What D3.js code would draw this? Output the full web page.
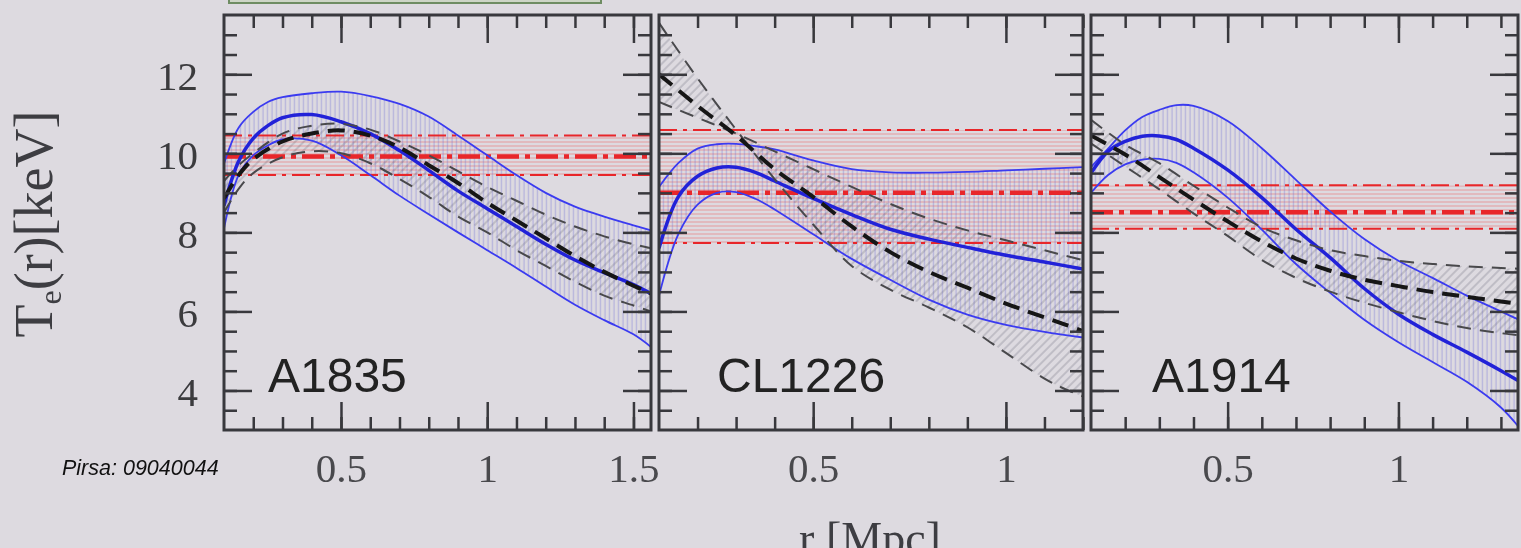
<!DOCTYPE html>
<html>
<head>
<meta charset="utf-8">
<script src="https://cdn.jsdelivr.net/npm/d3@7"></script>
<style>
  html, body { margin: 0; padding: 0; background: #dddae0; overflow: hidden; }
  svg { display: block; }
</style>
</head>
<body>
<svg id="chart" width="1521" height="548"></svg>
<script>
// ---- data ----
const clusters = ["A1835", "CL1226", "A1914"];
const rMax = [1.56, 1.2, 1.35];            // right edge of each panel, Mpc
const xTickLabels = [[0.5, 1, 1.5], [0.5, 1], [0.5, 1]];
const yTickLabels = [4, 6, 8, 10, 12];

// isothermal fit: [lower, best, upper] keV
const isoA1835 = [9.45, 9.92, 10.45];
const isoCL1226 = [7.73, 9.0, 10.59];
const isoA1914 = [8.09, 8.51, 9.19];

// model profile (blue): [r, lower, best, upper]
const modelA1835 = [
  [0.1, 8.1, 8.68, 9.74], [0.15, 9.45, 9.8, 10.65], [0.2, 9.95, 10.38, 11.05],
  [0.25, 10.2, 10.7, 11.3], [0.3, 10.35, 10.9, 11.42], [0.4, 10.32, 10.98, 11.52],
  [0.5, 9.95, 10.8, 11.56], [0.6, 9.45, 10.5, 11.45], [0.7, 8.93, 10.07, 11.25],
  [0.8, 8.46, 9.57, 10.93], [0.9, 8.0, 9.05, 10.45], [1.0, 7.55, 8.6, 9.95],
  [1.1, 7.1, 8.15, 9.45], [1.2, 6.63, 7.7, 9.0], [1.3, 6.17, 7.3, 8.65],
  [1.4, 5.78, 6.98, 8.4], [1.5, 5.42, 6.68, 8.18], [1.56, 5.1, 6.45, 8.05]
];
const modelCL1226 = [
  [0.1, 6.4, 7.6, 9.15], [0.15, 7.95, 8.9, 9.75], [0.2, 8.7, 9.42, 10.12],
  [0.25, 9.0, 9.63, 10.23], [0.3, 9.02, 9.65, 10.24], [0.35, 8.85, 9.52, 10.18],
  [0.4, 8.58, 9.3, 10.1], [0.5, 7.95, 8.86, 9.82], [0.6, 7.33, 8.45, 9.6],
  [0.7, 6.8, 8.08, 9.52], [0.8, 6.3, 7.83, 9.51], [0.9, 5.92, 7.62, 9.53],
  [1.0, 5.66, 7.42, 9.57], [1.1, 5.48, 7.25, 9.61], [1.2, 5.34, 7.07, 9.65]
];
const modelA1914 = [
  [0.1, 9.0, 9.5, 9.65], [0.15, 9.45, 10.05, 10.12], [0.2, 9.72, 10.3, 10.58],
  [0.25, 9.84, 10.43, 10.92], [0.3, 9.86, 10.44, 11.1], [0.35, 9.76, 10.35, 11.22],
  [0.4, 9.52, 10.13, 11.2], [0.5, 8.88, 9.58, 10.82], [0.6, 8.07, 8.88, 10.13],
  [0.7, 7.2, 8.08, 9.33], [0.8, 6.47, 7.36, 8.53], [0.9, 5.79, 6.58, 7.83],
  [1.0, 5.22, 5.93, 7.28], [1.1, 4.72, 5.42, 6.85], [1.2, 4.22, 4.97, 6.4],
  [1.3, 3.57, 4.5, 6.0], [1.35, 3.1, 4.25, 5.8]
];

// deprojected fit (black dashed): [r, bound a, best, bound b]
const fitA1835 = [
  [0.1, 8.5, 8.86, 9.3], [0.15, 9.1, 9.45, 9.7], [0.2, 9.5, 9.85, 10.0],
  [0.3, 9.9, 10.3, 10.5], [0.4, 10.05, 10.5, 10.7], [0.5, 10.0, 10.58, 10.75],
  [0.6, 9.75, 10.45, 10.6], [0.7, 9.35, 10.15, 10.3], [0.8, 8.9, 9.7, 9.95],
  [0.9, 8.4, 9.25, 9.55], [1.0, 8.0, 8.75, 9.15], [1.1, 7.55, 8.3, 8.8],
  [1.2, 7.15, 7.85, 8.45], [1.3, 6.75, 7.4, 8.15], [1.4, 6.4, 7.0, 7.9],
  [1.5, 6.15, 6.65, 7.7], [1.56, 6.0, 6.45, 7.6]
];
const fitCL1226 = [
  [0.1, 13.3, 12.0, 11.3], [0.2, 11.9, 11.2, 10.9], [0.3, 10.6, 10.45, 10.5],
  [0.4, 9.35, 9.6, 10.05], [0.5, 8.2, 8.9, 9.6], [0.6, 7.15, 8.15, 9.15],
  [0.7, 6.55, 7.5, 8.72], [0.8, 6.1, 7.0, 8.35], [0.9, 5.6, 6.6, 8.05],
  [1.0, 4.95, 6.2, 7.8], [1.1, 4.3, 5.85, 7.55], [1.15, 4.05, 5.68, 7.42],
  [1.2, 3.85, 5.5, 7.3]
];
const fitA1914 = [
  [0.1, 10.25, 10.45, 10.85], [0.2, 9.67, 9.97, 10.22], [0.3, 9.09, 9.4, 9.75],
  [0.4, 8.48, 8.83, 9.18], [0.5, 7.91, 8.28, 8.63], [0.6, 7.3, 7.77, 8.13],
  [0.7, 6.85, 7.34, 7.8], [0.8, 6.5, 7.03, 7.55], [0.9, 6.22, 6.8, 7.4],
  [1.0, 5.98, 6.64, 7.28], [1.1, 5.76, 6.49, 7.2], [1.2, 5.58, 6.37, 7.14],
  [1.3, 5.45, 6.25, 7.1], [1.35, 5.4, 6.2, 7.08]
];

const isoFits = [isoA1835, isoCL1226, isoA1914];
const models = [modelA1835, modelCL1226, modelA1914];
const fits = [fitA1835, fitCL1226, fitA1914];

// ---- layout ----
const frames = [[224, 651], [659, 1083], [1091, 1518]];
const plotTop = 15, plotBottom = 430;
const serif = "'Liberation Serif', 'DejaVu Serif', Times, serif";
const sans = "'Liberation Sans', Arial, Helvetica, sans-serif";
const ink = "#38383c";

const svg = d3.select("#chart");
const defs = svg.append("defs");

defs.append("filter").attr("id", "soft")
  .append("feGaussianBlur").attr("stdDeviation", 0.6);

// hatching used for the error bands
function hatch(id, w, h, line, color, rotate) {
  const p = defs.append("pattern")
    .attr("id", id)
    .attr("patternUnits", "userSpaceOnUse")
    .attr("width", w).attr("height", h);
  if (rotate) p.attr("patternTransform", "rotate(" + rotate + ")");
  p.append("line")
    .attr("x1", line[0]).attr("y1", line[1])
    .attr("x2", line[2]).attr("y2", line[3])
    .attr("stroke", color).attr("stroke-width", 1);
}
hatch("hatchRed", 10, 4, [0, 2, 10, 2], "rgba(240,70,70,0.42)");
hatch("hatchBlue", 4.5, 10, [2, 0, 2, 10], "rgba(80,80,210,0.36)");
hatch("hatchGrey", 6, 6, [3, 0, 3, 6], "rgba(70,70,90,0.38)", 45);

const root = svg.append("g").attr("filter", "url(#soft)");

// slide title box peeking in at the top
root.append("rect")
  .attr("x", 229).attr("y", -6).attr("width", 372).attr("height", 9)
  .attr("fill", "#cdd5c6").attr("stroke", "#6e8c62").attr("stroke-width", 2);

const y = d3.scaleLinear().domain([3, 13.5]).range([plotBottom, plotTop]);
const curve = d3.curveCatmullRom.alpha(0.5);

clusters.forEach((name, i) => {
  const [x0, x1] = frames[i];
  const x = d3.scaleLinear().domain([0.1, rMax[i]]).range([x0, x1]);
  const g = root.append("g");

  defs.append("clipPath").attr("id", "clip" + i)
    .append("rect").attr("x", x0).attr("y", plotTop)
    .attr("width", x1 - x0).attr("height", plotBottom - plotTop);

  const plot = g.append("g").attr("clip-path", "url(#clip" + i + ")");

  const lineOf = col => d3.line().x(d => x(d[0])).y(d => y(d[col])).curve(curve);
  const band = (rows, a, b) => {
    const up = lineOf(a)(rows);
    const dn = lineOf(b)(rows.slice().reverse());
    return up + "L" + dn.slice(1) + "Z";
  };

  const iso = isoFits[i];
  const model = models[i];
  const fit = fits[i];

  // error bands
  plot.append("rect")
    .attr("x", x0).attr("width", x1 - x0)
    .attr("y", y(iso[2])).attr("height", y(iso[0]) - y(iso[2]))
    .attr("fill", "url(#hatchRed)");
  plot.append("path").attr("d", band(model, 1, 3)).attr("fill", "url(#hatchBlue)");
  plot.append("path").attr("d", band(fit, 1, 3)).attr("fill", "url(#hatchGrey)");

  // isothermal temperature, dash-dot
  plot.selectAll("line.iso").data(iso).join("line")
    .attr("class", "iso")
    .attr("x1", x0).attr("x2", x1)
    .attr("y1", d => y(d)).attr("y2", d => y(d))
    .attr("stroke", "#e8262a")
    .attr("stroke-width", (d, k) => k === 1 ? 4.5 : 2)
    .attr("stroke-dasharray", (d, k) => k === 1 ? "22,6,5,6" : "18,6,4,6");

  // model profile with its bounds
  [1, 3, 2].forEach(col => {
    plot.append("path").attr("d", lineOf(col)(model))
      .attr("fill", "none")
      .attr("stroke", col === 2 ? "#2323d8" : "#3b3bf0")
      .attr("stroke-width", col === 2 ? 3.5 : 1.8);
  });

  // fitted profile, dashed
  [1, 3, 2].forEach(col => {
    plot.append("path").attr("d", lineOf(col)(fit))
      .attr("fill", "none")
      .attr("stroke", col === 2 ? "#151515" : "#48484c")
      .attr("stroke-width", col === 2 ? 4 : 2)
      .attr("stroke-dasharray", col === 2 ? "17,9" : "14,9");
  });

  // ticks on all four sides, pointing inward
  const minorX = d3.range(0.2, rMax[i] + 1e-6, 0.1).map(v => +v.toFixed(2));
  const minorY = d3.range(3.5, 13.5, 0.5);
  [[d3.axisBottom(x), plotBottom], [d3.axisTop(x), plotTop]].forEach(([make, pos]) => {
    g.append("g").attr("transform", `translate(0,${pos})`)
      .call(make.tickValues(minorX).tickSize(-13).tickFormat(""));
    g.append("g").attr("class", pos === plotBottom ? "xlab" : "")
      .attr("transform", `translate(0,${pos})`)
      .call(make.tickValues(xTickLabels[i]).tickSize(-28)
        .tickFormat(pos === plotBottom ? (d => String(d)) : ""));
  });
  [[d3.axisLeft(y), x0], [d3.axisRight(y), x1]].forEach(([make, pos]) => {
    g.append("g").attr("transform", `translate(${pos},0)`)
      .call(make.tickValues(minorY).tickSize(-13).tickFormat(""));
    g.append("g").attr("class", pos === x0 && i === 0 ? "ylab" : "")
      .attr("transform", `translate(${pos},0)`)
      .call(make.tickValues(yTickLabels).tickSize(-28)
        .tickFormat(pos === x0 && i === 0 ? (d => String(d)) : ""));
  });

  // frame
  g.append("rect")
    .attr("x", x0).attr("y", plotTop).attr("width", x1 - x0).attr("height", plotBottom - plotTop)
    .attr("fill", "none").attr("stroke", ink).attr("stroke-width", 3);

  g.append("text")
    .attr("x", [268, 717, 1152][i]).attr("y", 392)
    .attr("font-family", sans).attr("font-size", 48)
    .attr("fill", "#222")
    .text(name);
});

// axis styling
root.selectAll(".domain").remove();
root.selectAll(".tick line").attr("stroke", ink).attr("stroke-width", 2.5);
root.selectAll(".xlab .tick text")
  .attr("y", 52).attr("dy", 0)
  .attr("font-family", serif).attr("font-size", 41).attr("fill", "#4a4a4e");
root.selectAll(".ylab .tick text")
  .attr("x", -26).attr("dy", "0.36em")
  .attr("font-family", serif).attr("font-size", 41).attr("fill", "#3a3a3e");

// axis titles
const yt = root.append("text")
  .attr("transform", "translate(52,224) rotate(-90)")
  .attr("text-anchor", "middle")
  .attr("font-family", serif).attr("font-size", 54).attr("fill", "#3e3e42");
yt.append("tspan").text("T");
yt.append("tspan").attr("font-size", 32).attr("dy", 9).text("e");
yt.append("tspan").attr("dy", -9).text("(r)[keV]");

root.append("text")
  .attr("x", 870).attr("y", 554)
  .attr("text-anchor", "middle")
  .attr("font-family", serif).attr("font-size", 46).attr("fill", "#3e3e42")
  .text("r [Mpc]");

svg.append("text")
  .attr("x", 62).attr("y", 475)
  .attr("font-family", sans).attr("font-style", "italic").attr("font-size", 21.5)
  .attr("fill", "#111")
  .text("Pirsa: 09040044");
</script>
</body>
</html>
